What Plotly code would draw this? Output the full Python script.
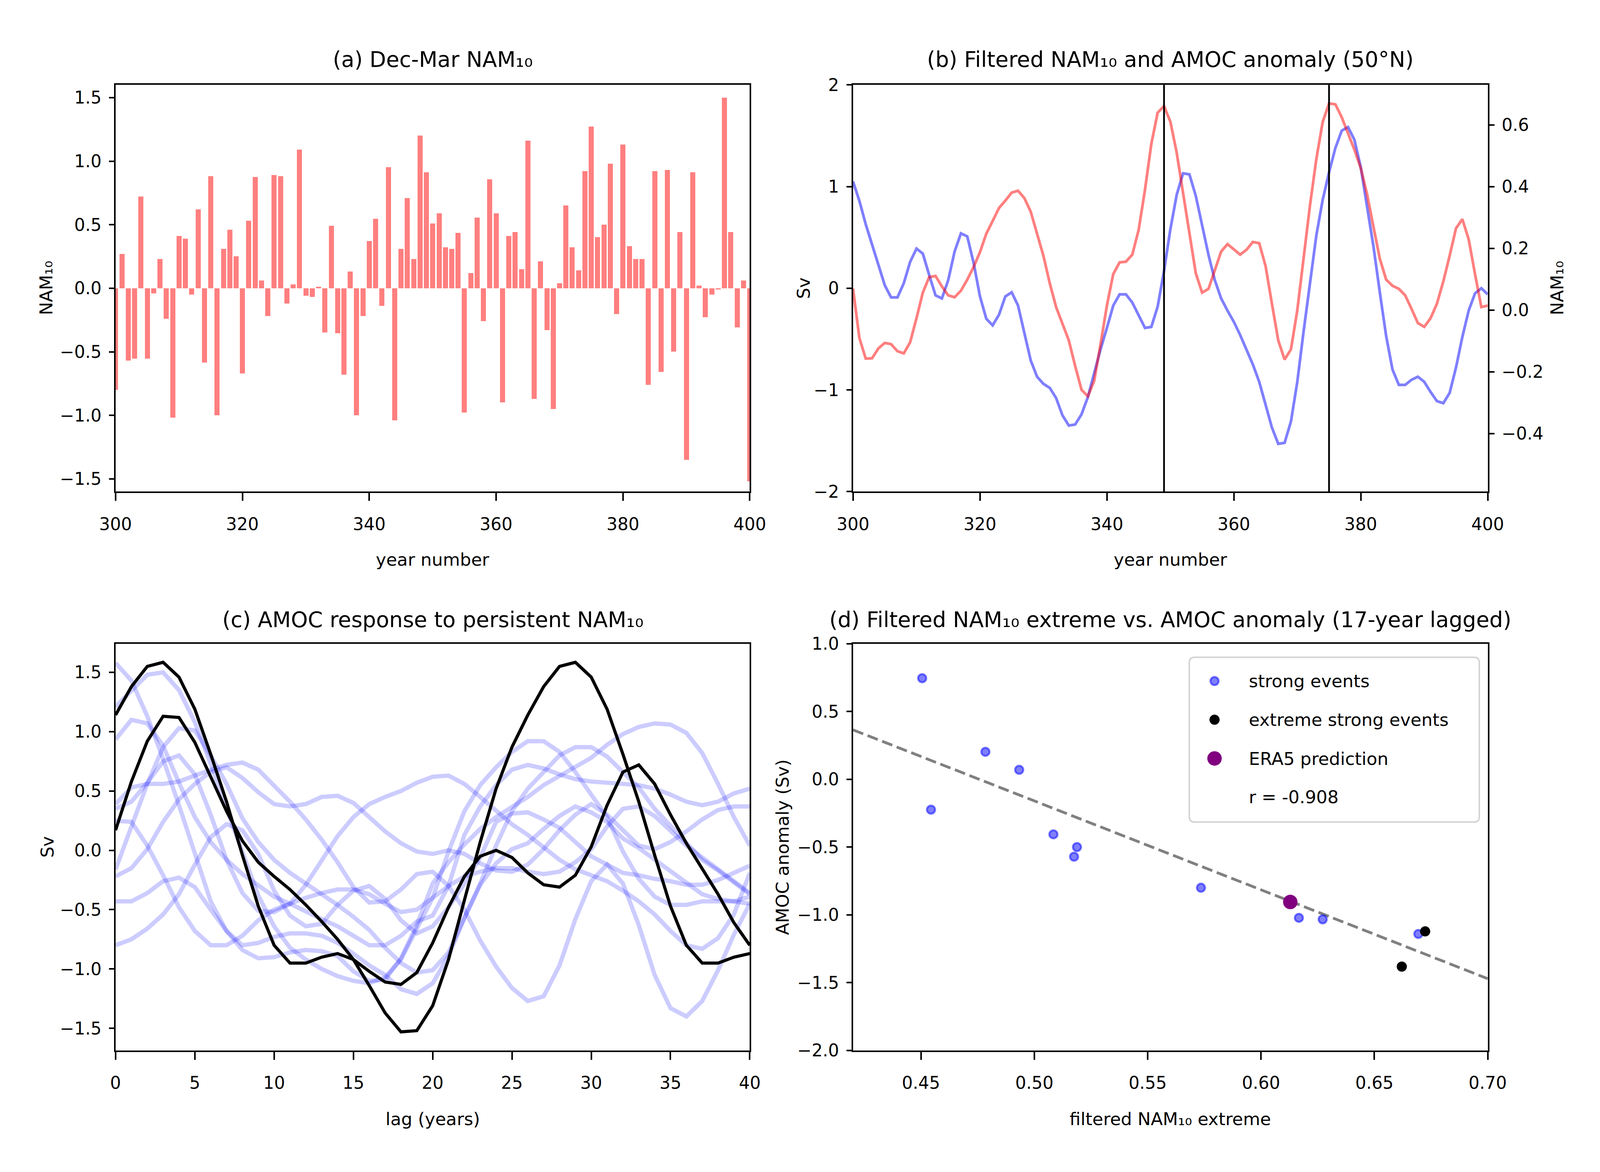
import plotly.graph_objects as go

# The browser viewport is 4096 px wide and 3000 px high; the figure fills it.
FIG_W, FIG_H = 4096, 3000
REF_W, REF_H = 6500.0, 3000.0      # geometry below is given in reference-canvas pixels
FONT = "DejaVu Sans"
NAM = "NAM\u2081\u2080"

# ---------------- data ----------------
years_a = list(range(300, 401))
nam10_djfm = [
    -0.80, 0.27, -0.57, -0.555, 0.72, -0.556, -0.04, 0.23, -0.24, -1.02,
    0.41, 0.39, -0.05, 0.62, -0.585, 0.88, -1.00, 0.31, 0.46, 0.25,
    -0.67, 0.53, 0.876, 0.06, -0.22, 0.89, 0.88, -0.12, 0.03, 1.09,
    -0.06, -0.07, 0.01, -0.35, 0.49, -0.355, -0.68, 0.13, -1.00, -0.22,
    0.37, 0.545, -0.14, 0.95, -1.04, 0.31, 0.71, 0.23, 1.20, 0.91,
    0.51, 0.59, 0.32, 0.31, 0.435, -0.98, 0.12, 0.556, -0.26, 0.856,
    0.59, -0.90, 0.41, 0.44, 0.15, 1.16, -0.87, 0.21, -0.33, -0.95,
    0.04, 0.65, 0.32, 0.14, 0.92, 1.27, 0.40, 0.50, 0.98, -0.205,
    1.13, 0.33, 0.23, 0.23, -0.76, 0.92, -0.66, 0.93, -0.50, 0.44,
    -1.35, 0.91, 0.02, -0.23, -0.05, -0.01, 1.50, 0.44, -0.31, 0.06,
    -1.52,
]

amoc_years = list(range(300, 416))
amoc_sv = [
    1.05, 0.86, 0.63, 0.43, 0.21, 0.03, -0.09, -0.09, 0.05, 0.26,
    0.39, 0.34, 0.13, -0.07, -0.10, 0.08, 0.36, 0.54, 0.51, 0.25,
    -0.08, -0.30, -0.365, -0.26, -0.08, -0.04, -0.17, -0.43, -0.71, -0.87,
    -0.94, -0.98, -1.08, -1.25, -1.35, -1.34, -1.24, -1.07, -0.83, -0.60,
    -0.39, -0.17, -0.06, -0.06, -0.14, -0.27, -0.39, -0.38, -0.18, 0.17,
    0.58, 0.92, 1.13, 1.12, 0.91, 0.62, 0.33, 0.08, -0.10, -0.22,
    -0.33, -0.46, -0.60, -0.75, -0.92, -1.14, -1.37, -1.53, -1.52, -1.31,
    -0.92, -0.42, 0.07, 0.52, 0.87, 1.14, 1.38, 1.55, 1.585, 1.46,
    1.19, 0.81, 0.41, -0.04, -0.47, -0.80, -0.95, -0.95, -0.90, -0.87,
    -0.92, -1.02, -1.11, -1.13, -1.03, -0.78, -0.48, -0.22, -0.05, 0.00,
    -0.06, -0.19, -0.29, -0.31, -0.21, 0.03, 0.38, 0.66, 0.72, 0.56,
    0.30, 0.06, -0.15, -0.37, -0.61, -0.80,
]

filt_years = list(range(300, 401))
nam10_filtered = [
    0.070, -0.090, -0.157, -0.156, -0.124, -0.106, -0.110, -0.133, -0.140, -0.104,
    -0.026, 0.057, 0.107, 0.111, 0.077, 0.048, 0.042, 0.063, 0.099, 0.140,
    0.188, 0.248, 0.289, 0.331, 0.355, 0.381, 0.387, 0.363, 0.319, 0.248,
    0.176, 0.087, 0.010, -0.044, -0.098, -0.181, -0.258, -0.279, -0.229, -0.110,
    0.015, 0.117, 0.155, 0.157, 0.180, 0.260, 0.390, 0.539, 0.640, 0.661,
    0.611, 0.510, 0.380, 0.250, 0.120, 0.057, 0.069, 0.129, 0.190, 0.214,
    0.198, 0.180, 0.196, 0.221, 0.217, 0.143, 0.021, -0.098, -0.160, -0.127,
    0.000, 0.170, 0.340, 0.490, 0.610, 0.670, 0.667, 0.625, 0.575, 0.520,
    0.460, 0.375, 0.270, 0.167, 0.099, 0.079, 0.069, 0.048, 0.004, -0.042,
    -0.054, -0.026, 0.021, 0.093, 0.176, 0.265, 0.295, 0.230, 0.117, 0.010,
    0.015,
]

event_years = [349, 375]

lags = list(range(0, 41))
resp_01 = [1.58, 1.43, 1.13, 0.77, 0.38, -0.03, -0.43, -0.68, -0.80, -0.78, -0.73,
           -0.70, -0.70, -0.72, -0.78, -0.87, -0.97, -1.05, -1.17, -1.21, -1.12,
           -0.89, -0.57, -0.29, -0.11, 0.01, 0.06, 0.18, 0.29, 0.37, 0.32,
           0.24, 0.10, 0.02, -0.08, -0.17, -0.28, -0.37, -0.41, -0.43, -0.39]
resp_02 = [1.21, 1.34, 1.48, 1.50, 1.35, 1.08, 0.73, 0.35, -0.01, -0.38, -0.64,
           -0.82, -0.92, -1.00, -1.06, -1.10, -1.12, -1.07, -0.92, -0.65, -0.40,
           -0.01, 0.33, 0.55, 0.70, 0.83, 0.92, 0.92, 0.83, 0.66, 0.47,
           0.28, -0.01, -0.24, -0.39, -0.46, -0.46, -0.43, -0.43, -0.43, -0.45]
resp_03 = [0.935, 1.10, 1.07, 0.88, 0.57, 0.28, 0.07, -0.08, -0.20, -0.30, -0.39,
           -0.45, -0.52, -0.58, -0.64, -0.72, -0.80, -0.80, -0.72, -0.60, -0.55,
           -0.30, 0.13, 0.37, 0.55, 0.68, 0.72, 0.69, 0.64, 0.60, 0.58,
           0.57, 0.56, 0.55, 0.52, 0.47, 0.41, 0.38, 0.41, 0.48, 0.52]
resp_04 = [-0.16, 0.19, 0.56, 0.87, 1.03, 1.01, 0.80, 0.56, 0.27, 0.07, -0.08,
           -0.19, -0.28, -0.36, -0.46, -0.56, -0.67, -0.82, -0.95, -1.03, -1.01,
           -0.86, -0.57, -0.28, 0.04, 0.33, 0.52, 0.66, 0.80, 0.87, 0.87,
           0.79, 0.66, 0.53, 0.35, 0.21, 0.06, -0.08, -0.17, -0.27, -0.37]
resp_05 = [0.39, 0.53, 0.56, 0.56, 0.58, 0.63, 0.68, 0.72, 0.74, 0.68, 0.55,
           0.41, 0.26, 0.09, -0.10, -0.31, -0.44, -0.43, -0.33, -0.20, -0.18,
           -0.30, -0.50, -0.76, -0.98, -1.16, -1.27, -1.23, -0.97, -0.58, -0.26,
           -0.12, -0.28, -0.63, -1.05, -1.33, -1.40, -1.27, -1.01, -0.71, -0.45]
resp_06 = [0.35, 0.41, 0.57, 0.75, 0.80, 0.64, 0.30, -0.08, -0.36, -0.51, -0.52,
           -0.45, -0.29, -0.09, 0.12, 0.28, 0.39, 0.45, 0.50, 0.57, 0.62,
           0.63, 0.56, 0.45, 0.33, 0.22, 0.13, 0.02, -0.08, -0.16, -0.21,
           -0.26, -0.34, -0.43, -0.54, -0.68, -0.80, -0.83, -0.74, -0.54, -0.19]
resp_07 = [0.25, 0.24, 0.04, -0.21, -0.48, -0.68, -0.80, -0.80, -0.72, -0.59, -0.50,
           -0.45, -0.40, -0.36, -0.33, -0.33, -0.37, -0.45, -0.52, -0.50, -0.40,
           -0.30, -0.22, -0.18, -0.15, -0.15, -0.18, -0.20, -0.18, -0.10, 0.01,
           0.20, 0.35, 0.37, 0.29, 0.16, 0.04, -0.06, -0.16, -0.27, -0.36]
resp_08 = [-0.22, -0.15, 0.01, 0.24, 0.43, 0.56, 0.66, 0.70, 0.61, 0.49, 0.39,
           0.37, 0.39, 0.45, 0.46, 0.40, 0.28, 0.16, 0.06, -0.01, -0.03,
           0.00, -0.03, -0.11, -0.17, -0.18, -0.12, 0.01, 0.17, 0.30, 0.39,
           0.30, 0.17, 0.04, 0.01, 0.07, 0.16, 0.26, 0.34, 0.37, 0.37]
resp_09 = [-0.43, -0.43, -0.36, -0.26, -0.23, -0.31, -0.50, -0.68, -0.84, -0.91, -0.90,
           -0.86, -0.84, -0.85, -0.89, -1.02, -1.10, -1.09, -0.91, -0.63, -0.28,
           -0.10, 0.05, 0.18, 0.28, 0.36, 0.45, 0.55, 0.63, 0.71, 0.78,
           0.89, 0.98, 1.04, 1.07, 1.06, 0.99, 0.82, 0.56, 0.28, 0.04]
resp_10 = [-0.80, -0.75, -0.66, -0.54, -0.37, -0.12, 0.11, 0.22, 0.17, -0.03, -0.34,
           -0.55, -0.64, -0.62, -0.46, -0.34, -0.30, -0.41, -0.59, -0.70, -0.64,
           -0.48, -0.28, -0.06, 0.24, 0.31, 0.32, 0.26, 0.19, 0.07, -0.05,
           -0.12, -0.19, -0.21, -0.24, -0.26, -0.29, -0.29, -0.25, -0.19, -0.13]
strong_responses = [resp_01, resp_02, resp_03, resp_04, resp_05,
                    resp_06, resp_07, resp_08, resp_09, resp_10]

strong_x = [0.4505, 0.4544, 0.4784, 0.4933, 0.5084, 0.5175, 0.5188, 0.5735, 0.6167, 0.6272, 0.6694]
strong_y = [0.746, -0.224, 0.203, 0.070, -0.406, -0.571, -0.500, -0.800, -1.022, -1.033, -1.141]
extreme_x = [0.6621, 0.6724]
extreme_y = [-1.382, -1.122]
era5_x = [0.6129]
era5_y = [-0.905]
fit_slope = -6.557
fit_intercept = 3.119
r_value = -0.908

legend_labels = ["strong events", "extreme strong events", "ERA5 prediction",
                 "r = %.3f" % r_value]

a_xticks = [300, 320, 340, 360, 380, 400]
a_yticks = [-1.5, -1.0, -0.5, 0.0, 0.5, 1.0, 1.5]
b_yticks_sv = [-2, -1, 0, 1, 2]
b_yticks_nam = [-0.4, -0.2, 0.0, 0.2, 0.4, 0.6]
c_xticks = [0, 5, 10, 15, 20, 25, 30, 35, 40]
c_yticks = [-1.5, -1.0, -0.5, 0.0, 0.5, 1.0, 1.5]
d_xticks = [0.45, 0.50, 0.55, 0.60, 0.65, 0.70]
d_yticks = [-2.0, -1.5, -1.0, -0.5, 0.0, 0.5, 1.0]

a_xrange = [300, 400]
a_yrange = [-1.6, 1.6]
b_yrange_sv = [-2.0, 2.0]
b_yrange_nam = [-0.588, 0.730]
c_xrange = [0, 40]
c_yrange = [-1.686, 1.741]
d_xrange = [0.42, 0.70]
d_yrange = [-2.0, 1.0]

# ---------------- layout geometry (reference-canvas pixels) ----------------
def fx(px):
    return px / REF_W


def fy(py):
    return 1.0 - py / REF_H


BOX_A = (399, 3034, 186.5, 1245.6)
BOX_B = (3463, 6100, 186.5, 1245.6)
BOX_C = (399, 3034, 1641.8, 2700.6)
BOX_D = (3463, 6100, 1641.8, 2700.6)
LEG_BOX = (4860, 6065, 1677, 2106)
LEG_KEY_X = 4965
LEG_TEXT_X = 5105
LEG_ROWS_Y = [1739, 1840, 1942, 2041]


def dom_x(b):
    return [fx(b[0]), fx(b[1])]


def dom_y(b):
    return [fy(b[3]), fy(b[2])]


TICK_SIZE = 44
LABEL_SIZE = 45
TITLE_SIZE = 55
TICK_FONT = dict(family=FONT, size=TICK_SIZE, color="black")


def axis_style(vertical, **kw):
    d = dict(showline=True, linecolor="black", linewidth=4, mirror=True,
             ticks="outside", ticklen=13 if vertical else 20, tickwidth=4, tickcolor="black",
             ticklabelstandoff=10 if vertical else 22,
             showgrid=False, zeroline=False, tickfont=TICK_FONT, tickmode="array")
    d.update(kw)
    return d


fig = go.Figure()

# (a) bars
fig.add_trace(go.Bar(x=years_a, y=nam10_djfm, width=0.8,
                     marker=dict(color="rgba(255,0,0,0.5)", line=dict(width=0)),
                     xaxis="x", yaxis="y", showlegend=False))

# (b) lines
n_b = len(filt_years)
fig.add_trace(go.Scatter(x=amoc_years[:n_b], y=amoc_sv[:n_b], mode="lines",
                         line=dict(color="rgba(0,0,255,0.5)", width=7),
                         xaxis="x2", yaxis="y2", showlegend=False))
fig.add_trace(go.Scatter(x=filt_years, y=nam10_filtered, mode="lines",
                         line=dict(color="rgba(255,0,0,0.5)", width=7),
                         xaxis="x2", yaxis="y3", showlegend=False))

# (c) responses
for resp in strong_responses:
    fig.add_trace(go.Scatter(x=lags, y=resp, mode="lines",
                             line=dict(color="rgba(0,0,255,0.2)", width=11),
                             xaxis="x3", yaxis="y4", showlegend=False))
for ev in event_years:
    i0 = amoc_years.index(ev)
    fig.add_trace(go.Scatter(x=lags, y=amoc_sv[i0:i0 + len(lags)], mode="lines",
                             line=dict(color="black", width=8),
                             xaxis="x3", yaxis="y4", showlegend=False))

# (d) scatter + fit
fit_x = list(d_xrange)
fit_y = [fit_intercept + fit_slope * v for v in fit_x]
fig.add_trace(go.Scatter(x=fit_x, y=fit_y, mode="lines",
                         line=dict(color="#808080", width=7, dash="28px,12px"),
                         xaxis="x4", yaxis="y5", showlegend=False))
STRONG_MK = dict(size=21, color="rgba(0,0,255,0.5)", line=dict(color="rgba(0,0,255,0.5)", width=5))
EXTREME_MK = dict(size=26, color="black", line=dict(width=0))
ERA5_MK = dict(size=37, color="purple", line=dict(width=0))
fig.add_trace(go.Scatter(x=strong_x, y=strong_y, mode="markers", marker=STRONG_MK,
                         xaxis="x4", yaxis="y5", showlegend=False))
fig.add_trace(go.Scatter(x=extreme_x, y=extreme_y, mode="markers", marker=EXTREME_MK,
                         xaxis="x4", yaxis="y5", showlegend=False))
fig.add_trace(go.Scatter(x=era5_x, y=era5_y, mode="markers", marker=ERA5_MK,
                         xaxis="x4", yaxis="y5", showlegend=False))

# legend keys on a hidden helper axis whose units are legend rows
row_step = LEG_ROWS_Y[1] - LEG_ROWS_Y[0]
leg_rows = list(range(len(legend_labels)))
leg_y_top = -(LEG_ROWS_Y[0] - LEG_BOX[2]) / row_step
leg_y_bot = (len(legend_labels) - 1) + (LEG_BOX[3] - LEG_ROWS_Y[-1]) / row_step
key_x = (LEG_KEY_X - LEG_BOX[0]) / (LEG_BOX[1] - LEG_BOX[0])
for row, mk in zip(leg_rows[:3], [STRONG_MK, EXTREME_MK, ERA5_MK]):
    fig.add_trace(go.Scatter(x=[key_x], y=[row], mode="markers", marker=mk,
                             xaxis="x5", yaxis="y6", showlegend=False, hoverinfo="skip"))

# legend frame with rounded corners
lx0, lx1 = fx(LEG_BOX[0]), fx(LEG_BOX[1])
ly1, ly0 = fy(LEG_BOX[2]), fy(LEG_BOX[3])
rx, ry = 14 / FIG_W, 14 / FIG_H
frame_path = (f"M {lx0+rx},{ly0} L {lx1-rx},{ly0} Q {lx1},{ly0} {lx1},{ly0+ry} "
              f"L {lx1},{ly1-ry} Q {lx1},{ly1} {lx1-rx},{ly1} L {lx0+rx},{ly1} "
              f"Q {lx0},{ly1} {lx0},{ly1-ry} L {lx0},{ly0+ry} Q {lx0},{ly0} {lx0+rx},{ly0} Z")

shapes = [dict(type="path", path=frame_path, xref="paper", yref="paper",
               line=dict(color="#d4d4d4", width=4), fillcolor="rgba(255,255,255,0.8)",
               layer="below")]
for ev in event_years:
    shapes.append(dict(type="line", xref="x2", yref="y2 domain", x0=ev, x1=ev, y0=0, y1=1,
                       line=dict(color="black", width=4.5), layer="above"))

annotations = []


def add_text(text, x, y, size, angle=0, xanchor="center", yanchor="middle"):
    annotations.append(dict(text=text, x=x, y=y, xref="paper", yref="paper", showarrow=False,
                            textangle=angle, xanchor=xanchor, yanchor=yanchor,
                            font=dict(family=FONT, size=size, color="black")))


cxa = (BOX_A[0] + BOX_A[1]) / 2
cxb = (BOX_B[0] + BOX_B[1]) / 2
# panel titles
add_text(f"(a) Dec-Mar {NAM}", fx(cxa), fy(120), TITLE_SIZE)
add_text(f"(b) Filtered {NAM} and AMOC anomaly (50°N)", fx(cxb), fy(120), TITLE_SIZE)
add_text(f"(c) AMOC response to persistent {NAM}", fx(cxa), fy(1579), TITLE_SIZE)
add_text(f"(d) Filtered {NAM} extreme vs. AMOC anomaly (17-year lagged)", fx(cxb), fy(1579), TITLE_SIZE)
# x labels
add_text("year number", fx(cxa), fy(1423), LABEL_SIZE)
add_text("year number", fx(cxb), fy(1423), LABEL_SIZE)
add_text("lag (years)", fx(cxa), fy(2879), LABEL_SIZE)
add_text(f"filtered {NAM} extreme", fx(cxb), fy(2879), LABEL_SIZE)
# y labels
add_text(NAM, fx(112), fy(716), LABEL_SIZE, angle=-90)
add_text("Sv", fx(3258), fy(716), LABEL_SIZE, angle=-90)
add_text(NAM, fx(6390), fy(716), LABEL_SIZE, angle=-90)
add_text("Sv", fx(116), fy(2171), LABEL_SIZE, angle=-90)
add_text("AMOC anomaly (Sv)", fx(3170), fy(2171), LABEL_SIZE, angle=-90)
# legend labels
for yrow, lab in zip(LEG_ROWS_Y, legend_labels):
    add_text(lab, fx(LEG_TEXT_X), fy(yrow), LABEL_SIZE, xanchor="left")

fig.update_layout(
    width=FIG_W, height=FIG_H,
    margin=dict(l=0, r=0, t=0, b=0),
    paper_bgcolor="white", plot_bgcolor="rgba(0,0,0,0)",
    showlegend=False, bargap=0,
    font=dict(family=FONT, color="black"),
    xaxis=axis_style(False, domain=dom_x(BOX_A), anchor="y", range=a_xrange, tickvals=a_xticks),
    yaxis=axis_style(True, domain=dom_y(BOX_A), anchor="x", range=a_yrange, tickvals=a_yticks, tickformat=".1f"),
    xaxis2=axis_style(False, domain=dom_x(BOX_B), anchor="y2", range=a_xrange, tickvals=a_xticks),
    yaxis2=axis_style(True, domain=dom_y(BOX_B), anchor="x2", range=b_yrange_sv, tickvals=b_yticks_sv, tickformat="d"),
    yaxis3=axis_style(True, overlaying="y2", anchor="x2", side="right", range=b_yrange_nam,
                      tickvals=b_yticks_nam, tickformat=".1f", mirror=False),
    xaxis3=axis_style(False, domain=dom_x(BOX_C), anchor="y4", range=c_xrange, tickvals=c_xticks),
    yaxis4=axis_style(True, domain=dom_y(BOX_C), anchor="x3", range=c_yrange, tickvals=c_yticks, tickformat=".1f"),
    xaxis4=axis_style(False, domain=dom_x(BOX_D), anchor="y5", range=d_xrange, tickvals=d_xticks, tickformat=".2f"),
    yaxis5=axis_style(True, domain=dom_y(BOX_D), anchor="x4", range=d_yrange, tickvals=d_yticks, tickformat=".1f"),
    xaxis5=dict(domain=dom_x(LEG_BOX), anchor="y6", range=[0, 1], visible=False, fixedrange=True),
    yaxis6=dict(domain=dom_y(LEG_BOX), anchor="x5", range=[leg_y_bot, leg_y_top], visible=False, fixedrange=True),
    shapes=shapes,
    annotations=annotations,
)

fig.write_html("out.html")
